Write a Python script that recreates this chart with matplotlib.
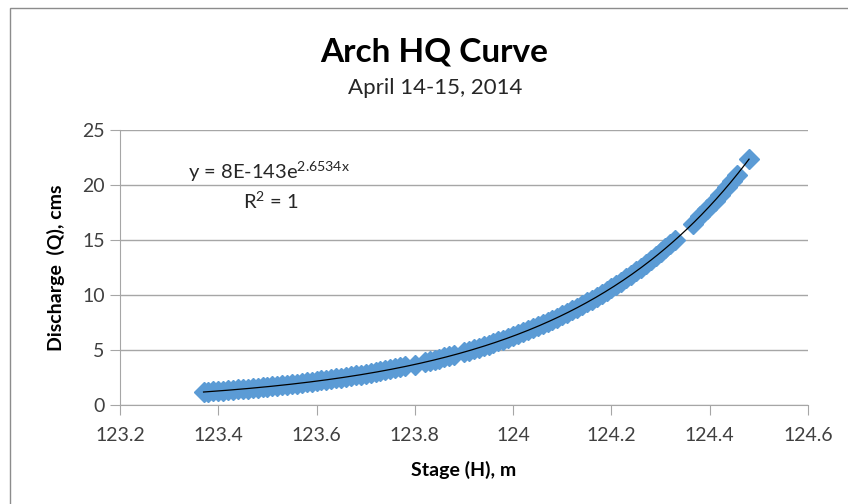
import numpy as np
import matplotlib.pyplot as plt
from matplotlib.patches import Rectangle

# stage (H, m) and discharge (Q, cms)
stage = [123.37, 123.38, 123.39, 123.40, 123.41, 123.42, 123.43, 123.44, 123.45, 123.46,
         123.47, 123.48, 123.49, 123.50, 123.51, 123.52, 123.53, 123.54, 123.55, 123.56,
         123.57, 123.58, 123.59, 123.60, 123.61, 123.62, 123.63, 123.64, 123.65, 123.66,
         123.67, 123.68, 123.69, 123.70, 123.71, 123.72, 123.73, 123.74, 123.75, 123.76,
         123.77, 123.78, 123.80, 123.82, 123.83, 123.84, 123.85, 123.86, 123.87, 123.88,
         123.90, 123.91, 123.92, 123.93, 123.94, 123.95, 123.96, 123.97, 123.98, 123.99,
         124.00, 124.01, 124.02, 124.03, 124.04, 124.05, 124.06, 124.07, 124.08, 124.09,
         124.10, 124.11, 124.12, 124.13, 124.14, 124.15, 124.16, 124.17, 124.18, 124.19,
         124.20, 124.21, 124.22, 124.23, 124.24, 124.25, 124.26, 124.27, 124.28, 124.29,
         124.30, 124.31, 124.32, 124.33,
         124.365, 124.38, 124.395, 124.41, 124.42, 124.435, 124.445, 124.455, 124.48]
discharge = [1.18, 1.21, 1.24, 1.27, 1.31, 1.34, 1.38, 1.42, 1.46, 1.50,
             1.54, 1.58, 1.62, 1.67, 1.71, 1.76, 1.80, 1.85, 1.90, 1.95,
             2.01, 2.06, 2.12, 2.17, 2.23, 2.29, 2.35, 2.42, 2.48, 2.55,
             2.62, 2.69, 2.76, 2.84, 2.91, 2.99, 3.07, 3.15, 3.24, 3.33,
             3.42, 3.51, 3.68, 3.88, 3.99, 4.09, 4.20, 4.32, 4.43, 4.55,
             4.80, 4.93, 5.06, 5.20, 5.34, 5.48, 5.63, 5.78, 5.94, 6.10,
             6.26, 6.43, 6.60, 6.78, 6.96, 7.15, 7.34, 7.54, 7.74, 7.95,
             8.16, 8.38, 8.61, 8.84, 9.08, 9.32, 9.57, 9.83, 10.09, 10.36,
             10.64, 10.93, 11.22, 11.52, 11.83, 12.15, 12.48, 12.81, 13.16, 13.51,
             13.88, 14.25, 14.63, 15.03,
             16.45, 17.15, 17.85, 18.57, 19.07, 19.84, 20.38, 20.93, 22.37]

x_ticks = [123.2, 123.4, 123.6, 123.8, 124, 124.2, 124.4, 124.6]
x_tick_labels = ['123.2', '123.4', '123.6', '123.8', '124', '124.2', '124.4', '124.6']
y_ticks = [0, 5, 10, 15, 20, 25]

plt.rcParams['font.family'] = ['Lato', 'DejaVu Sans']

fig = plt.figure(figsize=(8.48, 5.04), dpi=100)
# chart area frame, like the excel chart border
fig.patches.append(Rectangle((10 / 848, -0.1), 1.2, 1 - 8 / 504 + 0.1, transform=fig.transFigure,
                             fill=False, edgecolor='#8c8c8c', linewidth=1.0))

ax = fig.add_axes([120 / 848, 1 - 405 / 504, 688 / 848, 275 / 504])

# exponential trendline fitted in log space
H = np.array(stage)
Q = np.array(discharge)
b, ln_a = np.polyfit(H, np.log(Q), 1)
h_fit = np.linspace(H.min(), H.max(), 300)
ax.plot(H, Q, linestyle='none', marker='D', markersize=10, color='#5b9bd5',
        markeredgecolor='#5b9bd5', zorder=2)
ax.plot(h_fit, np.exp(ln_a + b * h_fit), color='black', linewidth=0.9, zorder=3)

ax.set_xlim(123.2, 124.6)
ax.set_ylim(0, 25)
ax.set_xticks(x_ticks)
ax.set_xticklabels(x_tick_labels)
ax.set_yticks(y_ticks)
ax.yaxis.grid(True, color='#a6a6a6', linewidth=1.0)
ax.set_axisbelow(True)
for side in ['top', 'right']:
    ax.spines[side].set_visible(False)
for side in ['left', 'bottom']:
    ax.spines[side].set_color('#a6a6a6')
ax.tick_params(axis='both', direction='out', length=7, color='#a6a6a6',
               labelsize=14, labelcolor='#404040')
ax.tick_params(axis='x', pad=9)
ax.tick_params(axis='y', pad=4)

ax.set_xlabel('Stage (H), m', fontsize=14, fontweight='bold', labelpad=12)
ax.set_ylabel('Discharge  (Q), cms', fontsize=14, fontweight='bold', labelpad=12)

fig.text(434 / 848, 1 - 52 / 504, 'Arch HQ Curve', ha='center', va='center',
         fontsize=24, fontweight='bold')
fig.text(435 / 848, 1 - 88 / 504, 'April 14-15, 2014', ha='center', va='center',
         fontsize=16, color='#262626')

fig.text(269 / 848, 1 - 172 / 504, 'y = 8E-143e$\\mathregular{^{2.6534x}}$', ha='center',
         va='center', fontsize=14.5, color='#262626')
fig.text(271 / 848, 1 - 201 / 504, 'R$\\mathregular{^{2}}$ = 1', ha='center', va='center',
         fontsize=14.5, color='#262626')

fig.savefig('out.png', dpi=100)
